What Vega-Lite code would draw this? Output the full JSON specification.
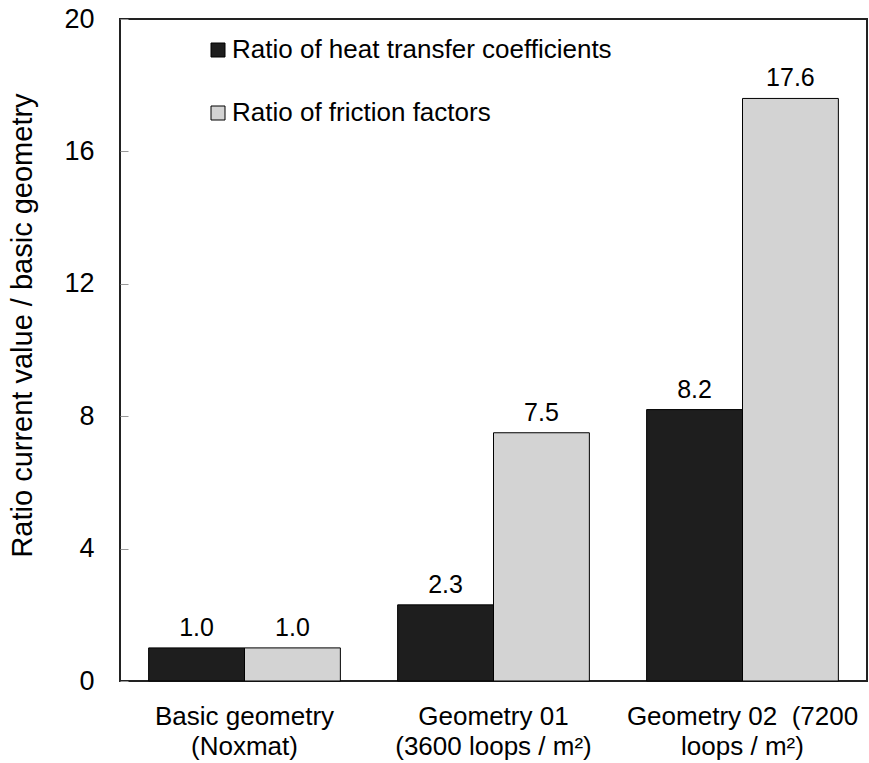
{
  "$schema": "https://vega.github.io/schema/vega-lite/v6.json",
  "width": 747,
  "height": 662,
  "autosize": {"type": "none"},
  "padding": {"left": 120, "top": 19, "right": 2, "bottom": 82},
  "background": "#ffffff",
  "config": {
    "font": "Liberation Sans",
    "view": {"stroke": "#222222", "strokeWidth": 2}
  },
  "data": {
    "values": [
      {"geometry": "Basic geometry|(Noxmat)", "series": "Ratio of heat transfer coefficients", "value": 1.0},
      {"geometry": "Basic geometry|(Noxmat)", "series": "Ratio of friction factors", "value": 1.0},
      {"geometry": "Geometry 01|(3600 loops / m²)", "series": "Ratio of heat transfer coefficients", "value": 2.3},
      {"geometry": "Geometry 01|(3600 loops / m²)", "series": "Ratio of friction factors", "value": 7.5},
      {"geometry": "Geometry 02\u00a0 (7200|loops / m²)", "series": "Ratio of heat transfer coefficients", "value": 8.2},
      {"geometry": "Geometry 02\u00a0 (7200|loops / m²)", "series": "Ratio of friction factors", "value": 17.6}
    ]
  },
  "encoding": {
    "x": {
      "field": "geometry",
      "type": "nominal",
      "sort": null,
      "scale": {"paddingInner": 0.23, "paddingOuter": 0.115},
      "axis": {
        "title": null,
        "ticks": false,
        "domain": false,
        "labelAngle": 0,
        "labelFontSize": 26,
        "labelLineHeight": 30,
        "labelPadding": 22,
        "labelColor": "#000000",
        "labelExpr": "split(datum.label, '|')",
        "labelLimit": 400
      }
    },
    "xOffset": {
      "field": "series",
      "type": "nominal",
      "sort": ["Ratio of heat transfer coefficients", "Ratio of friction factors"],
      "scale": {"paddingInner": 0, "paddingOuter": 0}
    },
    "y": {
      "field": "value",
      "type": "quantitative",
      "scale": {"domain": [0, 20], "nice": false},
      "axis": {
        "values": [0, 4, 8, 12, 16, 20],
        "grid": false,
        "domain": false,
        "tickSize": -8,
        "tickColor": "#999999",
        "labelFontSize": 27,
        "labelColor": "#000000",
        "labelPadding": 34,
        "title": "Ratio current value / basic geometry",
        "titleFontSize": 29,
        "titleFontWeight": "normal",
        "titleColor": "#000000",
        "titleX": -83,
        "titleY": 306
      }
    }
  },
  "layer": [
    {
      "mark": {"type": "bar", "stroke": "#000000", "strokeWidth": 1},
      "encoding": {
        "color": {
          "field": "series",
          "type": "nominal",
          "scale": {
            "domain": ["Ratio of heat transfer coefficients", "Ratio of friction factors"],
            "range": ["#1e1e1e", "#d3d3d3"]
          },
          "legend": {
            "orient": "none",
            "legendX": 85,
            "legendY": 18,
            "title": null,
            "labelFontSize": 26,
            "labelColor": "#000000",
            "symbolType": "square",
            "symbolSize": 196,
            "symbolStrokeColor": "#000000",
            "symbolStrokeWidth": 1,
            "rowPadding": 37,
            "labelOffset": 1,
            "labelLimit": 600
          }
        }
      }
    },
    {
      "mark": {"type": "text", "dy": -12, "baseline": "alphabetic", "fontSize": 25, "color": "#000000"},
      "encoding": {
        "text": {"field": "value", "type": "quantitative", "format": ".1f"}
      }
    }
  ]
}
